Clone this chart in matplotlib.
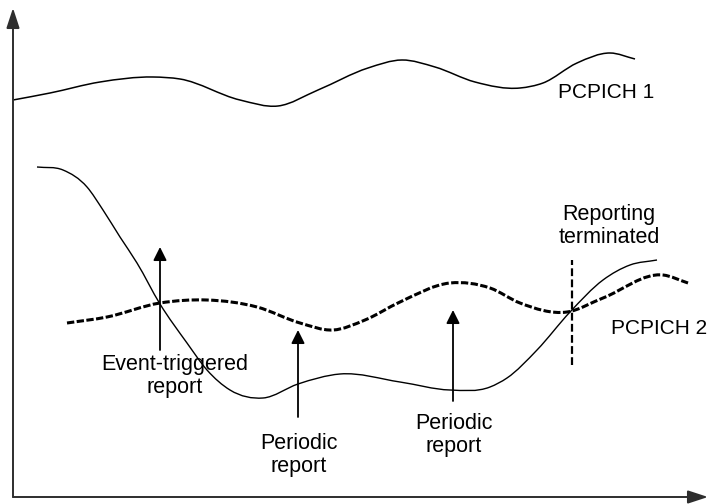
import numpy as np
import matplotlib
matplotlib.use('Agg')
import matplotlib.pyplot as plt
from matplotlib.path import Path
from matplotlib.patches import PathPatch

plt.rcParams['font.family'] = ['Liberation Sans', 'DejaVu Sans']

# time axis (t) and signal level
pcpich1_t = [0, 37, 87, 140, 167, 227, 265, 305, 355, 389, 422, 462, 507, 530, 564, 597, 622]
pcpich1_lvl = [397, 404, 415, 420, 418, 397, 391, 407, 429, 437, 430, 415, 409, 414, 434, 444, 438]

serving_t = [24, 50, 74, 90, 107, 124, 147, 174, 194, 217, 250, 285, 327, 387, 437, 477, 494,
             524, 557, 590, 617, 644]
serving_lvl = [330, 327, 310, 287, 260, 234, 193, 154, 127, 107, 99, 113, 123, 115, 107, 110, 119,
               147, 185, 217, 232, 237]

pcpich2_t = [54, 94, 147, 194, 244, 287, 320, 352, 387, 437, 477, 507, 554, 590, 650, 675]
pcpich2_lvl = [174, 180, 194, 197, 190, 174, 167, 177, 195, 214, 209, 194, 185, 199, 222, 214]

# report arrows: time, tail level, tip level, label
report_t = [147, 285, 440]
report_tail = [147, 80, 96]
report_tip = [250, 167, 187]
report_labels = ['Event-triggered\nreport', 'Periodic\nreport', 'Periodic\nreport']
report_label_t = [162, 286, 441]
report_label_lvl = [121, 42, 62]

stop_t = 559
stop_lvl = [132, 237]

t_max = 695
lvl_max = 489


def smooth_path(t, v):
    # cubic Hermite through the read points, drawn as Bezier segments
    t = np.asarray(t, float)
    v = np.asarray(v, float)
    h = np.diff(t)
    d = np.diff(v) / h
    m = np.empty_like(v)
    m[0], m[-1] = d[0], d[-1]
    m[1:-1] = (d[1:] * h[:-1] + d[:-1] * h[1:]) / (h[:-1] + h[1:])
    verts = [(t[0], v[0])]
    codes = [Path.MOVETO]
    for i in range(len(t) - 1):
        verts += [(t[i] + h[i] / 3, v[i] + m[i] * h[i] / 3),
                  (t[i + 1] - h[i] / 3, v[i + 1] - m[i + 1] * h[i] / 3),
                  (t[i + 1], v[i + 1])]
        codes += [Path.CURVE4] * 3
    return Path(verts, codes)


fig = plt.figure(figsize=(7.1, 5.04), dpi=100)
ax = fig.add_axes([0, 0, 1, 1])
ax.set_xlim(-13, 697)
ax.set_ylim(-7, 497)
ax.axis('off')

# axes with arrow heads
axis_style = dict(arrowstyle='-|>,head_length=1.22,head_width=0.4', color='#2e2e2e',
                  lw=1.4, shrinkA=0, shrinkB=0, mutation_scale=10)
ax.annotate('', xy=(t_max, 0), xytext=(0, 0), arrowprops=axis_style)
ax.annotate('', xy=(0, lvl_max), xytext=(0, 0), arrowprops=axis_style)

ax.add_patch(PathPatch(smooth_path(pcpich1_t, pcpich1_lvl), fill=False, lw=1.1, color='black'))
ax.add_patch(PathPatch(smooth_path(serving_t, serving_lvl), fill=False, lw=1.0, color='black'))
ax.add_patch(PathPatch(smooth_path(pcpich2_t, pcpich2_lvl), fill=False, lw=2.2, color='black',
                       linestyle=(0, (2.4, 0.8)), capstyle='butt'))

# reporting terminated marker
ax.plot([stop_t, stop_t], stop_lvl, color='black', lw=1.6, linestyle=(0, (3.5, 1.5)))

arrow_style = dict(arrowstyle='-|>,head_length=0.8,head_width=0.4', color='black',
                   lw=1.3, shrinkA=0, shrinkB=0, mutation_scale=10)
for t, a, b in zip(report_t, report_tail, report_tip):
    ax.annotate('', xy=(t, b), xytext=(t, a), arrowprops=arrow_style)

fs = 15.5
for lab, t, v in zip(report_labels, report_label_t, report_label_lvl):
    ax.text(t, v, lab, ha='center', va='center', fontsize=fs, linespacing=1.15)

ax.text(545, 405, 'PCPICH 1', ha='left', va='center', fontsize=15)
ax.text(598, 169, 'PCPICH 2', ha='left', va='center', fontsize=15)
ax.text(596, 271, 'Reporting\nterminated', ha='center', va='center', fontsize=fs, linespacing=1.1)

fig.savefig('out.png', dpi=100)
